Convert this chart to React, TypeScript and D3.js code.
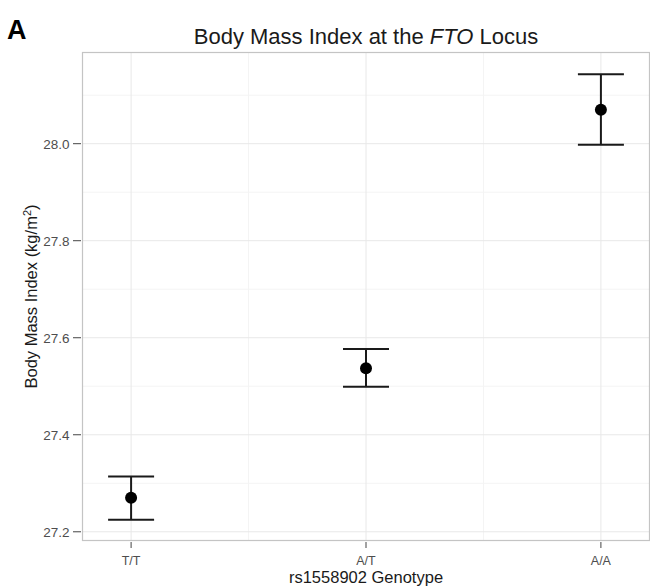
import { scaleLinear, scalePoint, range as d3range } from "d3";

const genotypes = ["T/T", "A/T", "A/A"];
const bmiMean = [27.27, 27.537, 28.07];
const bmiLow = [27.225, 27.499, 27.998];
const bmiHigh = [27.314, 27.577, 28.143];
const yTicks = [27.2, 27.4, 27.6, 27.8, 28.0];
const yMinor = [27.3, 27.5, 27.7, 27.9, 28.1];

const W = 650;
const H = 588;
const PANEL = { left: 82, top: 52, right: 650, bottom: 541 };
const FONT = "'Liberation Sans', Arial, sans-serif";

const App = () => {
  const x = scalePoint<string>()
    .domain(genotypes)
    .range([PANEL.left, PANEL.right])
    .padding(0.209);

  const y = scaleLinear()
    .domain([27.181, 28.189])
    .range([PANEL.bottom, PANEL.top]);

  const xMinor = d3range(genotypes.length - 1).map(
    (i) => (x(genotypes[i])! + x(genotypes[i + 1])!) / 2
  );
  const capHalf = 23;

  return (
    <svg
      width={W}
      height={H}
      style={{ position: "absolute", left: 0, top: 0, background: "#fff" }}
      fontFamily={FONT}
    >
      <rect x={0} y={0} width={W} height={H} fill="#fff" />

      {/* grid */}
      <g>
        {yMinor.map((v) => (
          <line key={"ym" + v} x1={PANEL.left} x2={PANEL.right} y1={y(v)} y2={y(v)} stroke="#f4f4f4" strokeWidth={1} />
        ))}
        {xMinor.map((v, i) => (
          <line key={"xm" + i} x1={v} x2={v} y1={PANEL.top} y2={PANEL.bottom} stroke="#f4f4f4" strokeWidth={1} />
        ))}
        {yTicks.map((v) => (
          <line key={"yM" + v} x1={PANEL.left} x2={PANEL.right} y1={y(v)} y2={y(v)} stroke="#e8e8e8" strokeWidth={1} />
        ))}
        {genotypes.map((g) => (
          <line key={"xM" + g} x1={x(g)} x2={x(g)} y1={PANEL.top} y2={PANEL.bottom} stroke="#e8e8e8" strokeWidth={1} />
        ))}
      </g>

      {/* error bars + points */}
      {genotypes.map((g, i) => {
        const cx = x(g)!;
        return (
          <g key={g} stroke="#1a1a1a" strokeWidth={2}>
            <line x1={cx} x2={cx} y1={y(bmiLow[i])} y2={y(bmiHigh[i])} />
            <line x1={cx - capHalf} x2={cx + capHalf} y1={y(bmiHigh[i])} y2={y(bmiHigh[i])} />
            <line x1={cx - capHalf} x2={cx + capHalf} y1={y(bmiLow[i])} y2={y(bmiLow[i])} />
            <circle cx={cx} cy={y(bmiMean[i])} r={6} fill="#000" stroke="none" />
          </g>
        );
      })}

      {/* panel border */}
      <rect
        x={PANEL.left + 0.5}
        y={PANEL.top + 0.5}
        width={PANEL.right - PANEL.left - 1}
        height={PANEL.bottom - PANEL.top - 1}
        fill="none"
        stroke="#c4c4c4"
        strokeWidth={1.2}
      />

      {/* y axis */}
      {yTicks.map((v) => (
        <g key={"yt" + v}>
          <line x1={73} x2={81} y1={y(v)} y2={y(v)} stroke="#444" strokeWidth={1} />
          <text x={69.5} y={y(v)} dy="0.36em" textAnchor="end" fontSize={13.5} fill="#4d4d4d">
            {v.toFixed(1)}
          </text>
        </g>
      ))}

      {/* x axis */}
      {genotypes.map((g) => (
        <g key={"xt" + g}>
          <line x1={x(g)} x2={x(g)} y1={PANEL.bottom + 1} y2={PANEL.bottom + 7} stroke="#444" strokeWidth={1} />
          <text x={x(g)} y={565} textAnchor="middle" fontSize={12.5} fill="#4d4d4d">
            {g}
          </text>
        </g>
      ))}

      <text x={(PANEL.left + PANEL.right) / 2} y={583} textAnchor="middle" fontSize={16.5} fill="#1a1a1a">
        rs1558902 Genotype
      </text>

      <text
        transform={`translate(37, ${(PANEL.top + PANEL.bottom) / 2}) rotate(-90)`}
        textAnchor="middle"
        fontSize={16.5}
        fill="#1a1a1a"
      >
        Body Mass Index (kg/m<tspan dy={-6} fontSize={11}>2</tspan><tspan dy={6}>)</tspan>
      </text>

      <text x={366} y={44} textAnchor="middle" fontSize={22} fill="#1a1a1a">
        Body Mass Index at the <tspan fontStyle="italic">FTO</tspan> Locus
      </text>

      <text x={7} y={39} fontSize={27} fontWeight="bold" fill="#000">
        A
      </text>
    </svg>
  );
};

export default App;
